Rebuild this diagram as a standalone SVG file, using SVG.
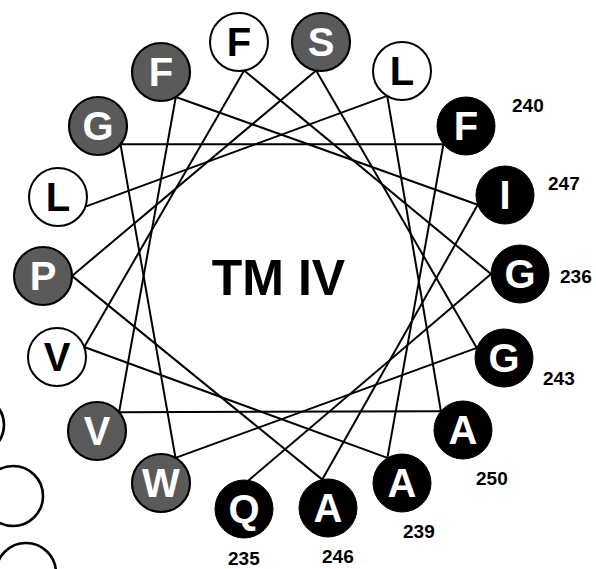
<svg xmlns="http://www.w3.org/2000/svg" width="596" height="569" viewBox="0 0 596 569">
<style>
.bg{fill:#ffffff}
.ln line{stroke:#000;stroke-width:2;fill:none}
.w circle{fill:#fff;stroke:#000;stroke-width:2}
.g circle{fill:#5a5a5a;stroke:#000;stroke-width:2.2}
.b circle{fill:#000;stroke:#000;stroke-width:1}
.res text{font-family:"Liberation Sans",Arial,sans-serif;font-weight:bold;font-size:40px;text-anchor:middle}
.w text{fill:#000}
.g text,.b text{fill:#fff}
.num{font-family:"Liberation Sans",Arial,sans-serif;font-weight:bold;font-size:19px;fill:#000}
.title{font-family:"Liberation Sans",Arial,sans-serif;font-weight:bold;font-size:50px;fill:#000;text-anchor:middle}
.part{fill:#fff;stroke:#000;stroke-width:2.6}
</style>
<rect class="bg" x="0" y="0" width="596" height="569"/>
<g id="partials">
<circle class="part" cx="-25" cy="425" r="29"/>
<circle class="part" cx="13" cy="496" r="30"/>
<circle class="part" cx="26" cy="573" r="30"/>
</g>
<g id="connectors" class="ln">
<line x1="248.5" y1="480.4" x2="491" y2="274.1"/>
<line x1="491" y1="274.1" x2="244.1" y2="70.5"/>
<line x1="244.1" y1="70.5" x2="84.2" y2="347"/>
<line x1="84.2" y1="347" x2="387.4" y2="457.9"/>
<line x1="387.4" y1="457.9" x2="443.4" y2="144.2"/>
<line x1="443.4" y1="144.2" x2="120.5" y2="144.3"/>
<line x1="120.5" y1="144.3" x2="175.5" y2="457.9"/>
<line x1="175.5" y1="457.9" x2="476.8" y2="347.9"/>
<line x1="476.8" y1="347.9" x2="316.1" y2="70.6"/>
<line x1="316.1" y1="70.6" x2="72" y2="275.9"/>
<line x1="72" y1="275.9" x2="322.3" y2="479.6"/>
<line x1="322.3" y1="479.6" x2="477.7" y2="204.8"/>
<line x1="477.7" y1="204.8" x2="175.8" y2="97"/>
<line x1="175.8" y1="97" x2="119.1" y2="412.2"/>
<line x1="119.1" y1="412.2" x2="440.9" y2="411.2"/>
<line x1="440.9" y1="411.2" x2="387.2" y2="95.9"/>
<line x1="387.2" y1="95.9" x2="85.4" y2="206.6"/>
</g>
<g id="r235" class="res b"><circle cx="244" cy="509" r="29"/><text x="244" y="523">Q</text></g>
<g id="r236" class="res b"><circle cx="520" cy="274" r="29"/><text x="520" y="288">G</text></g>
<g id="r237" class="res w"><circle cx="239" cy="42" r="29"/><text x="239" y="56">F</text></g>
<g id="r238" class="res w"><circle cx="57" cy="357" r="29"/><text x="57" y="371">V</text></g>
<g id="r239" class="res b"><circle cx="402" cy="483" r="29"/><text x="402" y="497">A</text></g>
<g id="r240" class="res b"><circle cx="466" cy="126" r="29"/><text x="466" y="140">F</text></g>
<g id="r241" class="res g"><circle cx="98" cy="126" r="29"/><text x="98" y="140">G</text></g>
<g id="r242" class="res g"><circle cx="161" cy="483" r="29"/><text x="161" y="497">W</text></g>
<g id="r243" class="res b"><circle cx="504" cy="358" r="29"/><text x="504" y="372">G</text></g>
<g id="r244" class="res g"><circle cx="321" cy="42" r="29"/><text x="321" y="56">S</text></g>
<g id="r245" class="res g"><circle cx="43" cy="276" r="29"/><text x="43" y="290">P</text></g>
<g id="r246" class="res b"><circle cx="328" cy="508" r="29"/><text x="328" y="522">A</text></g>
<g id="r247" class="res b"><circle cx="505" cy="195" r="29"/><text x="505" y="209">I</text></g>
<g id="r248" class="res g"><circle cx="161" cy="72" r="29"/><text x="161" y="86">F</text></g>
<g id="r249" class="res g"><circle cx="97" cy="431" r="29"/><text x="97" y="445">V</text></g>
<g id="r250" class="res b"><circle cx="463" cy="430" r="29"/><text x="463" y="444">A</text></g>
<g id="r251" class="res w"><circle cx="402" cy="71" r="29"/><text x="402" y="85">L</text></g>
<g id="r252" class="res w"><circle cx="58" cy="197" r="29"/><text x="58" y="211">L</text></g>
<g id="labels">
<text class="num" x="512" y="112">240</text>
<text class="num" x="548" y="190">247</text>
<text class="num" x="560" y="283">236</text>
<text class="num" x="543" y="385">243</text>
<text class="num" x="476" y="485">250</text>
<text class="num" x="403" y="538">239</text>
<text class="num" x="322" y="563">246</text>
<text class="num" x="228" y="565">235</text>
</g>
<text id="title" class="title" x="278.5" y="295">TM IV</text>
</svg>
